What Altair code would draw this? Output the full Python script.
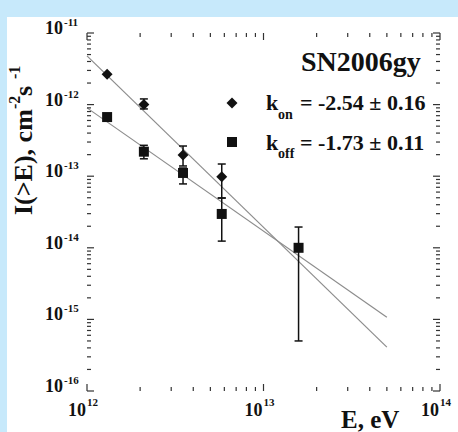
import altair as alt
import pandas as pd

# ---------------- data ----------------
E_on = [1.30e12, 2.10e12, 3.50e12, 5.80e12]
I_on = [2.65e-12, 1.00e-12, 1.98e-13, 9.8e-14]
on_lo = [None, 8.7e-13, 1.39e-13, 4.96e-14]
on_hi = [None, 1.20e-12, 2.64e-13, 1.48e-13]

E_off = [1.30e12, 2.10e12, 3.50e12, 5.80e12, 1.58e13]
I_off = [6.7e-13, 2.2e-13, 1.11e-13, 2.97e-14, 1.0e-14]
off_lo = [None, 1.75e-13, 7.8e-14, 1.24e-14, 5.0e-16]
off_hi = [None, 2.70e-13, 1.30e-13, 4.96e-14, 1.95e-14]

fit_E = [1.0e12, 5.0e13]
fit_on = [4.8e-12, 4.1e-16]
fit_off = [9.0e-13, 1.07e-15]

x_decades = [1e12, 1e13, 1e14]
x_exps = ["12", "13", "14"]
y_decades = [1e-16, 1e-15, 1e-14, 1e-13, 1e-12, 1e-11]
y_exps = ["-16", "-15", "-14", "-13", "-12", "-11"]
minor_mult = [2, 3, 4, 5, 6, 7, 8, 9]
x_minor = [m * d for d in x_decades[:-1] for m in minor_mult]
y_minor = [m * d for d in y_decades[:-1] for m in minor_mult]

label_on = "= -2.54 ± 0.16"
label_off = "= -1.73 ± 0.11"
name = "SN2006gy"

# ---------------- style ----------------
W, H = 353, 358
FONT = "Liberation Serif"
BLUE = "#c7e9fb"
INK = "#111111"
FRAME = "#333333"

xscale = alt.Scale(type="log", domain=[1e12, 1e14], nice=False)
yscale = alt.Scale(type="log", domain=[1e-16, 1e-11], nice=False)


def X(f):
    return alt.X(f, type="quantitative", scale=xscale, axis=None)


def Y(f):
    return alt.Y(f, type="quantitative", scale=yscale, axis=None)


one = pd.DataFrame({"a": [0]})

bg = alt.Chart(one).mark_rect(color="white").encode(
    x=alt.value(-80), x2=alt.value(W + 18), y=alt.value(-16), y2=alt.value(H + 41)
)

# ticks (inside, all four sides)
xmaj = pd.DataFrame({"E": x_decades})
xmin = pd.DataFrame({"E": x_minor})
ymaj = pd.DataFrame({"I": y_decades})
ymin = pd.DataFrame({"I": y_minor})


def xticks(df, L):
    b = alt.Chart(df).mark_rule(color=FRAME, strokeWidth=1.2).encode(
        x=X("E"), y=alt.value(H), y2=alt.value(H - L))
    t = alt.Chart(df).mark_rule(color=FRAME, strokeWidth=1.2).encode(
        x=X("E"), y=alt.value(0), y2=alt.value(L))
    return [b, t]


def yticks(df, L):
    l = alt.Chart(df).mark_rule(color=FRAME, strokeWidth=1.2).encode(
        y=Y("I"), x=alt.value(0), x2=alt.value(L))
    r = alt.Chart(df).mark_rule(color=FRAME, strokeWidth=1.2).encode(
        y=Y("I"), x=alt.value(W), x2=alt.value(W - L))
    return [l, r]


ticks = xticks(xmaj, 7) + xticks(xmin, 4) + yticks(ymaj, 7) + yticks(ymin, 4)

# fit lines
fits = pd.DataFrame({
    "E": fit_E + fit_E,
    "I": fit_on + fit_off,
    "s": ["on"] * len(fit_E) + ["off"] * len(fit_E),
})
lines = alt.Chart(fits).mark_line(color="#8c8c8c", strokeWidth=1.2).encode(
    x=X("E"), y=Y("I"), detail="s")

# error bars
err = pd.DataFrame({
    "E": E_on + E_off,
    "lo": on_lo + off_lo,
    "hi": on_hi + off_hi,
}).dropna()
err_rules = alt.Chart(err).mark_rule(color=INK, strokeWidth=1.5).encode(
    x=X("E"), y=Y("lo"), y2="hi")
caps_df = pd.DataFrame({
    "E": list(err["E"]) + list(err["E"]),
    "v": list(err["lo"]) + list(err["hi"]),
})
caps = alt.Chart(caps_df).mark_tick(orient="horizontal", size=8, thickness=1.5,
                                    color=INK, opacity=1).encode(
    x=X("E"), y=Y("v"))

# points
on_df = pd.DataFrame({"E": E_on, "I": I_on})
off_df = pd.DataFrame({"E": E_off, "I": I_off})
diam = alt.Chart(on_df).mark_point(shape="diamond", filled=True, size=120,
                                   color=INK, opacity=1).encode(x=X("E"), y=Y("I"))
sq = alt.Chart(off_df).mark_point(shape="square", filled=True, size=100,
                                  color=INK, opacity=1).encode(x=X("E"), y=Y("I"))

# tick labels
xl = pd.DataFrame({"E": x_decades, "exp": x_exps})
yl = pd.DataFrame({"I": y_decades, "exp": y_exps})
tstyle = dict(font=FONT, fontWeight="bold", color=INK)
xl10 = alt.Chart(xl).mark_text(align="right", baseline="alphabetic", fontSize=18,
                               dx=-1, **tstyle).encode(
    x=X("E"), y=alt.value(H + 25), text=alt.value("10"))
xlexp = alt.Chart(xl).mark_text(align="left", baseline="alphabetic", fontSize=11,
                                dx=0, **tstyle).encode(
    x=X("E"), y=alt.value(H + 15), text="exp:N")
yl10 = alt.Chart(yl).mark_text(align="right", baseline="alphabetic", fontSize=18,
                               dy=1, **tstyle).encode(
    y=Y("I"), x=alt.value(-24), text=alt.value("10"))
ylexp = alt.Chart(yl).mark_text(align="left", baseline="alphabetic", fontSize=11,
                                dy=-7, **tstyle).encode(
    y=Y("I"), x=alt.value(-23), text="exp:N")

# axis titles
xtitle = alt.Chart(one).mark_text(align="left", baseline="alphabetic", fontSize=25,
                                  **tstyle).encode(
    x=alt.value(254), y=alt.value(H + 37), text=alt.value("E, eV"))
yt1 = alt.Chart(one).mark_text(align="left", baseline="alphabetic", angle=270,
                               fontSize=26, **tstyle).encode(
    x=alt.value(-55), y=alt.value(182), text=alt.value("I(>E), cm"))
yt2 = alt.Chart(one).mark_text(align="left", baseline="alphabetic", angle=270,
                               fontSize=16, **tstyle).encode(
    x=alt.value(-67), y=alt.value(76), text=alt.value("-2"))
yt3 = alt.Chart(one).mark_text(align="left", baseline="alphabetic", angle=270,
                               fontSize=26, **tstyle).encode(
    x=alt.value(-55), y=alt.value(63), text=alt.value(" s"))
yt4 = alt.Chart(one).mark_text(align="left", baseline="alphabetic", angle=270,
                               fontSize=16, **tstyle).encode(
    x=alt.value(-67), y=alt.value(46), text=alt.value("-1"))

# legend / annotation
sn = alt.Chart(one).mark_text(align="left", baseline="alphabetic", fontSize=28,
                              **tstyle).encode(
    x=alt.value(214), y=alt.value(38), text=alt.value(name))
leg_d = alt.Chart(one).mark_point(shape="diamond", filled=True, size=120,
                                  color=INK, opacity=1).encode(
    x=alt.value(145), y=alt.value(70))
leg_s = alt.Chart(one).mark_point(shape="square", filled=True, size=100,
                                  color=INK, opacity=1).encode(
    x=alt.value(145), y=alt.value(109))


def txt(s, x, y, size):
    return alt.Chart(one).mark_text(align="left", baseline="alphabetic",
                                    fontSize=size, **tstyle).encode(
        x=alt.value(x), y=alt.value(y), text=alt.value(s))


legend = [
    txt("k", 179, 77, 22), txt("on", 191, 86, 14), txt(label_on, 213, 77, 22),
    txt("k", 179, 117, 22), txt("off", 191, 125, 14), txt(label_off, 213, 117, 22),
]

chart = alt.layer(
    bg, lines, err_rules, caps, diam, sq, *ticks,
    xl10, xlexp, yl10, ylexp, xtitle, yt1, yt2, yt3, yt4,
    sn, leg_d, leg_s, *legend,
).properties(
    width=W, height=H,
    autosize=alt.AutoSizeParams(type="none"),
    padding={"left": 87, "top": 33, "right": 18, "bottom": 41},
).configure(background=BLUE).configure_view(stroke=FRAME, strokeWidth=1.5)

chart.save("out.html", embed_options={"renderer": "svg", "actions": False})
